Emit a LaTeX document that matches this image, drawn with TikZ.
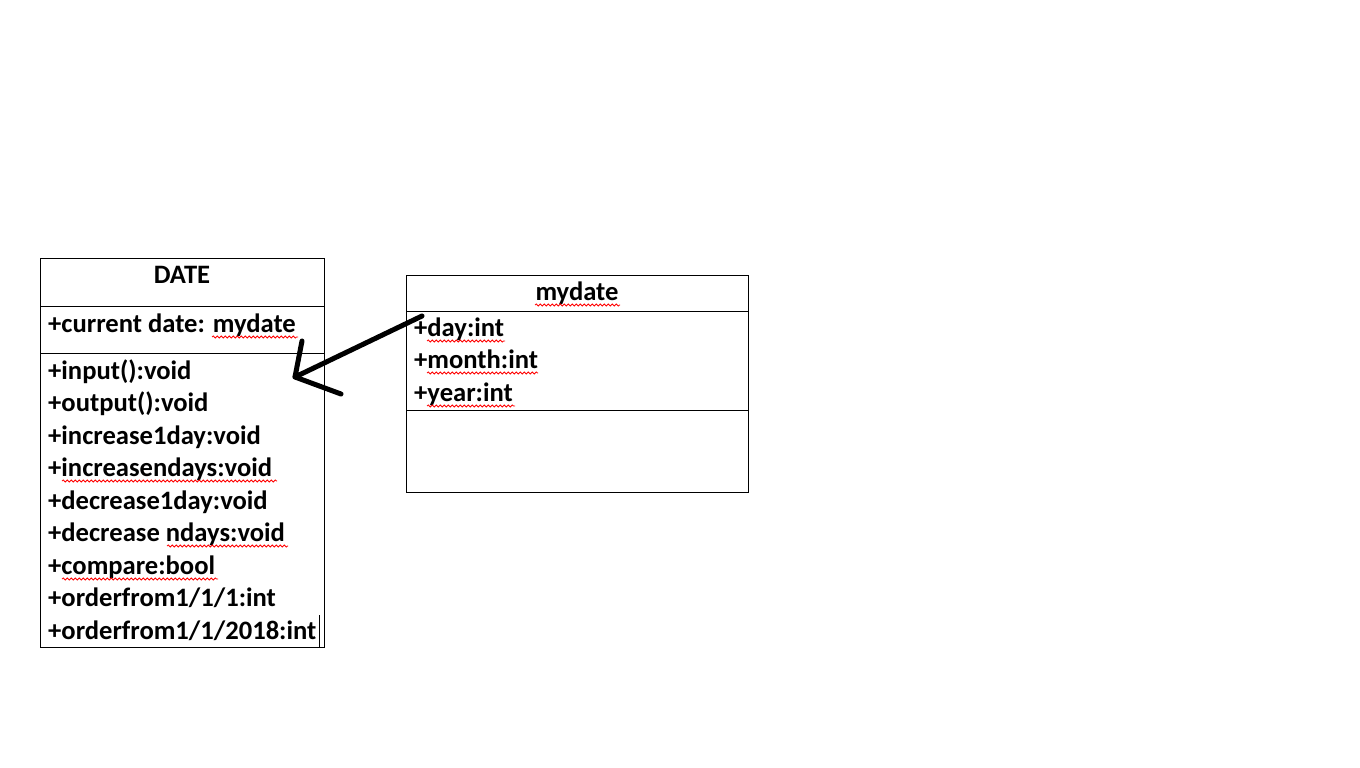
\documentclass[tikz,border=0pt]{standalone}
\usepackage{fontspec}
\setmainfont{Carlito}
\usetikzlibrary{decorations.pathmorphing}

\tikzset{
	umlpart/.style={shape=rectangle, draw=black, line width=1, inner sep=0},
	member/.style={anchor=base west, inner sep=0,
		font=\bfseries\fontsize{26.6}{32}\selectfont},
	title/.style={member, anchor=base},
	pen/.style={line width=5, line cap=round, line join=round},
	spell/.style={red, line width=0.8,
		decorate, decoration={snake, amplitude=1, segment length=4}}
}

\begin{document}
\begin{tikzpicture}[x=1pt, y=-1pt]
	\useasboundingbox (0,0) rectangle (1360,768);

	% class DATE
	\node[umlpart, minimum width=284, minimum height=48]
		(datetitle) at (182,282) {};
	\node[umlpart, minimum width=284, minimum height=47]
		(dateattr) at (182,329.5) {};
	\node[umlpart, minimum width=284, minimum height=294]
		(dateops) at (182,500) {};
	\node[title] (datename) at (182,283) {DATE};
	\node[member] (current) at (48,332) {+current date: mydate};
	\foreach \op [count=\i] in {+input():void, +output():void,
		+increase1day:void, +increasendays:void, +decrease1day:void,
		+decrease ndays:void, +compare:bool, +orderfrom1/1/1:int,
		+orderfrom1/1/2018:int}
		\node[member] (op\i) at (48,346.5+32.5*\i) {\op};
	\draw[line width=1] (319,615) -- (319,647);

	% class mydate
	\node[umlpart, minimum width=342, minimum height=36]
		(mytitle) at (577,293) {};
	\node[umlpart, minimum width=342, minimum height=99]
		(myattr) at (577,360.5) {};
	\node[umlpart, minimum width=342, minimum height=82]
		(myops) at (577,451) {};
	\node[title] (myname) at (577,300) {mydate};
	\node[member] (day) at (414,336) {+day:int};
	\node[member] (month) at (414,368.5) {+month:int};
	\node[member] (year) at (414,401) {+year:int};

	% spelling marks
	\draw[spell] (535,305) -- (620,305);
	\draw[spell] (212,337) -- (298,337);
	\draw[spell] (427,341) -- (505,341);
	\draw[spell] (427,373) -- (538,373);
	\draw[spell] (427,406) -- (515,406);
	\draw[spell] (62,481) -- (277,481);
	\draw[spell] (167,546) -- (288,546);
	\draw[spell] (62,579) -- (218,579);

	% hand drawn arrow
	\coordinate (tail) at (422,316);
	\coordinate (head) at (295,377);
	\draw[pen] (tail) -- (head) -- (302,341);
	\draw[pen] (head) -- (341,394);
\end{tikzpicture}
\end{document}
